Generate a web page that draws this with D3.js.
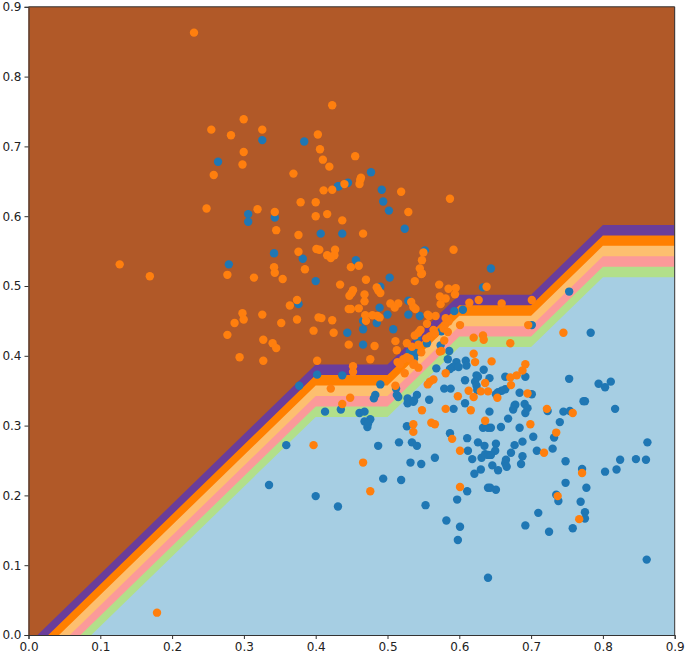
<!DOCTYPE html>
<html>
<head>
<meta charset="utf-8">
<script src="https://cdn.jsdelivr.net/npm/d3@7/dist/d3.min.js"></script>
<style>
html,body{margin:0;padding:0;background:#fff;}
svg{display:block;}
.axis text{font-family:"DejaVu Sans",sans-serif;font-size:12px;fill:#222;}
.axis path,.axis line{stroke:#333;stroke-width:1;}
</style>
</head>
<body>
<svg id="chart" width="685" height="655"></svg>
<script>
const tickValues = [0,0.1,0.2,0.3,0.4,0.5,0.6,0.7,0.8,0.9];
const boundaryX = [0,0.4,0.5,0.6,0.7,0.8,0.9];
const boundaryY = [0,0.4,0.4,0.5,0.5,0.6,0.6];
const bandOffsets = [-0.0875,-0.0725,-0.0575,-0.0425,-0.0275,-0.0125];
const bandColors = ["#b2df8a","#fb9a99","#fdbf6f","#ff7f00","#6a3d9a","#b15928"];
const baseColor = "#a6cee3";
const class0X = [.3256,.384,.264,.306,.306,.343,.431,.342,.279,.382,.400,.376,.407,.402,.377,.477,.445,.432,.492,.494,.502,.524,.437,.456,.552,.503,.644,.633,.490,.529,.489,.500,.529,.545,.593,.605,.466,.485,.444,.466,.508,.466,.575,.541,.555,.574,.531,.539,.537,.586,.584,.568,.596,.591,.587,.599,.609,.610,.634,.624,.626,.622,.624,.625,.642,.608,.579,.588,.437,.490,.483,.481,.512,.515,.513,.541,.537,.528,.528,.536,.558,.608,.592,.642,.413,.435,.461,.468,.476,.468,.472,.473,.527,.587,.611,.487,.516,.534,.541,.532,.547,.566,.612,.626,.633,.618,.631,.636,.640,.630,.621,.494,.519,.611,.597,.640,.400,.431,.553,.582,.601,.598,.640,.359,.335,.753,.701,.664,.692,.753,.664,.659,.654,.651,.684,.701,.775,.817,.677,.678,.675,.691,.695,.692,.723,.745,.754,.668,.740,.644,.658,.684,.732,.703,.688,.862,.677,.651,.635,.708,.730,.672,.650,.644,.688,.665,.664,.666,.686,.646,.654,.748,.771,.824,.846,.860,.803,.819,.748,.777,.643,.651,.735,.738,.769,.710,.775,.775,.692,.725,.758,.861,.640,.783,.794,.803,.811,.773];
const class0Y = [.709,.707,.678,.603,.592,.598,.643,.547,.531,.539,.507,.474,.575,.373,.357,.663,.648,.643,.638,.621,.608,.582,.575,.537,.551,.512,.525,.498,.499,.479,.469,.459,.459,.457,.464,.466,.450,.447,.433,.438,.438,.416,.435,.425,.418,.415,.406,.404,.396,.407,.395,.382,.391,.384,.381,.384,.393,.386,.380,.372,.370,.363,.357,.351,.368,.365,.353,.353,.372,.359,.344,.339,.353,.341,.344,.344,.336,.339,.332,.334,.337,.332,.324,.320,.320,.323,.318,.320,.309,.306,.298,.303,.299,.289,.282,.271,.276,.276,.271,.247,.245,.254,.264,.276,.297,.252,.254,.259,.258,.237,.231,.224,.222,.206,.194,.211,.199,.184,.186,.164,.155,.136,.082,.272,.215,.492,.444,.370,.370,.367,.352,.350,.348,.345,.347,.345,.335,.324,.329,.330,.323,.331,.325,.318,.321,.320,.321,.310,.305,.297,.298,.297,.283,.284,.277,.276,.272,.274,.271,.264,.267,.261,.264,.258,.256,.251,.246,.241,.245,.243,.236,.249,.238,.251,.252,.251,.234,.237,.218,.211,.211,.208,.201,.192,.191,.175,.176,.167,.157,.148,.153,.108,.297,.433,.360,.355,.363,.335];
const class1X = [.2305,.2997,.2546,.282,.3256,.2997,.298,.258,.423,.403,.406,.410,.419,.369,.411,.423,.379,.400,.400,.416,.248,.319,.343,.127,.169,.345,.376,.376,.401,.405,.342,.343,.277,.314,.354,.385,.374,.364,.298,.2997,.287,.3256,.352,.374,.404,.397,.277,.327,.340,.345,.294,.327,.402,.455,.463,.462,.461,.440,.519,.587,.529,.437,.466,.427,.416,.426,.421,.550,.592,.548,.449,.460,.434,.470,.485,.487,.490,.452,.450,.447,.468,.468,.446,.449,.460,.469,.479,.486,.489,.470,.408,.423,.425,.446,.482,.511,.513,.476,.538,.545,.547,.548,.572,.585,.595,.594,.573,.581,.574,.504,.515,.510,.533,.536,.539,.556,.567,.558,.555,.581,.585,.580,.578,.584,.564,.546,.543,.538,.559,.554,.566,.579,.527,.534,.543,.547,.575,.573,.638,.614,.627,.601,.620,.633,.634,.620,.622,.645,.581,.613,.620,.636,.630,.640,.653,.598,.559,.556,.564,.548,.581,.616,.527,.522,.514,.517,.531,.537,.543,.536,.452,.452,.524,.511,.448,.421,.437,.397,.466,.476,.536,.536,.561,.566,.636,.590,.601,.601,.659,.701,.696,.671,.745,.692,.688,.680,.671,.672,.695,.722,.758,.699,.735,.718,.771,.737,.767,.179];
const class1Y = [.863,.739,.724,.716,.724,.692,.674,.659,.759,.717,.696,.681,.671,.661,.637,.638,.620,.620,.600,.603,.611,.610,.606,.531,.514,.580,.573,.549,.553,.552,.527,.519,.516,.512,.510,.524,.480,.472,.461,.452,.447,.459,.447,.452,.455,.436,.430,.423,.418,.411,.398,.393,.393,.686,.655,.652,.646,.646,.635,.625,.606,.594,.575,.552,.544,.544,.540,.548,.552,.537,.527,.529,.502,.509,.498,.494,.490,.494,.490,.486,.488,.478,.467,.467,.468,.458,.458,.457,.455,.450,.454,.451,.433,.416,.414,.421,.408,.395,.507,.525,.517,.518,.502,.496,.497,.488,.485,.482,.474,.475,.475,.469,.477,.470,.467,.459,.457,.457,.446,.454,.449,.444,.439,.434,.437,.437,.433,.429,.428,.425,.432,.422,.418,.413,.416,.405,.407,.406,.499,.476,.480,.444,.426,.429,.423,.403,.391,.392,.375,.350,.341,.361,.349,.349,.340,.342,.363,.359,.366,.322,.324,.322,.398,.395,.391,.388,.396,.389,.383,.387,.385,.377,.375,.357,.340,.353,.331,.272,.247,.206,.302,.291,.304,.302,.307,.281,.264,.212,.475,.480,.444,.418,.433,.388,.379,.372,.369,.358,.346,.324,.318,.302,.290,.261,.232,.199,.166,.032];

const pointColors = ["#1f77b4","#ff7f0e"];
const svg = d3.select("#chart");
const x = d3.scaleLinear().domain([0,0.9]).range([28.5,674.7]);
const y = d3.scaleLinear().domain([0,0.9]).range([635,6.8]);

const clip = svg.append("defs").append("clipPath").attr("id","plot");
clip.append("rect").attr("x",x(0)).attr("y",y(0.9)).attr("width",x(0.9)-x(0)).attr("height",y(0)-y(0.9));

const plot = svg.append("g").attr("clip-path","url(#plot)");
const idx = d3.range(boundaryX.length);
plot.append("rect").attr("x",x(0)).attr("y",y(0.9)).attr("width",x(0.9)-x(0)).attr("height",y(0)-y(0.9)).attr("fill",baseColor);
bandOffsets.forEach((off,k)=>{
  const area = d3.area()
    .x(i=>x(boundaryX[i]))
    .y0(()=>y(0.9))
    .y1(i=>y(boundaryY[i]+off));
  plot.append("path").attr("d",area(idx)).attr("fill",bandColors[k]);
});
[[class0X,class0Y,0],[class1X,class1Y,1]].forEach(([xs,ys,c])=>{
  plot.append("g").selectAll("circle").data(d3.range(Math.min(xs.length,ys.length))).join("circle")
    .attr("cx",i=>x(xs[i])).attr("cy",i=>y(ys[i])).attr("r",4.2).attr("fill",pointColors[c]);
});

const fmt = d3.format(".1f");
const gx = svg.append("g").attr("class","axis").attr("transform",`translate(0,${y(0)})`)
  .call(d3.axisBottom(x).tickValues(tickValues).tickFormat(fmt).tickSize(4).tickPadding(3));
const gy = svg.append("g").attr("class","axis").attr("transform",`translate(${x(0)},0)`)
  .call(d3.axisLeft(y).tickValues(tickValues).tickFormat(fmt).tickSize(4).tickPadding(3));
svg.append("g").attr("class","axis").append("path")
  .attr("d",d3.line()([[x(0),y(0.9)],[x(0.9),y(0.9)],[x(0.9),y(0)]])).attr("fill","none");
</script>
</body>
</html>
